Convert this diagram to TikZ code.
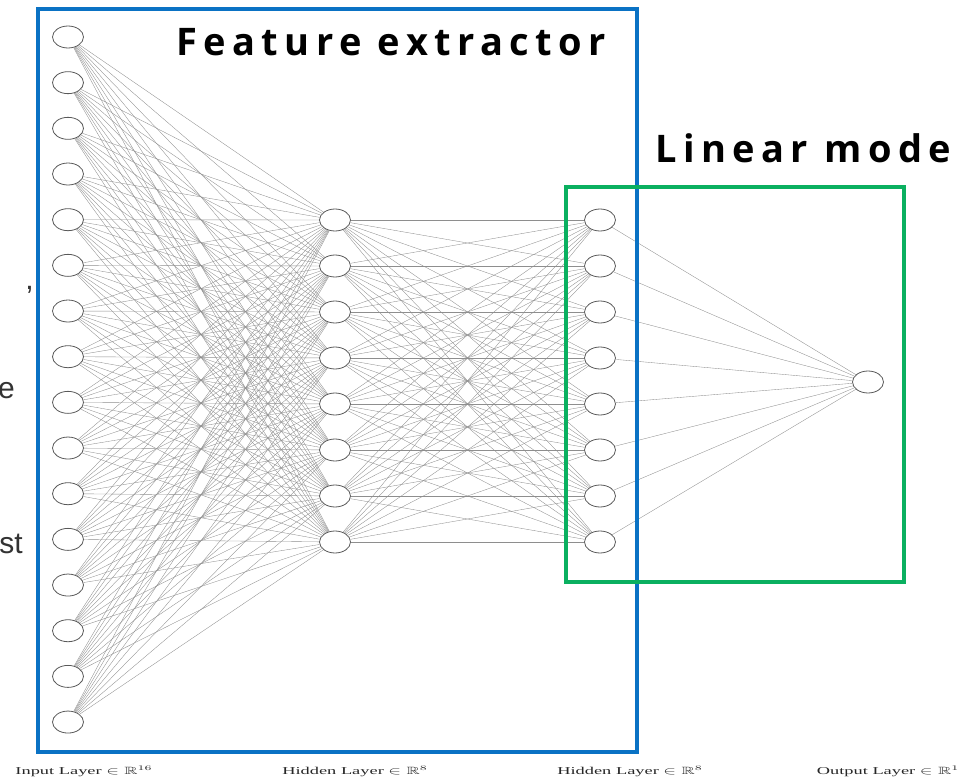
\documentclass[tikz,border=0pt]{standalone}
\usepackage{fontspec}
\usepackage{amssymb}
\usepackage{graphicx}
\usetikzlibrary{shapes.geometric}
\setmainfont{Liberation Serif}
\newfontfamily\titlefont[LetterSpace=17]{Open Sans}
\newfontfamily\sidefont{Liberation Sans}
\definecolor{boxblue}{HTML}{0A72C4}
\definecolor{boxgreen}{HTML}{0AB060}
\definecolor{edgegray}{HTML}{8E8E8E}
\tikzset{
  neuron/.style={ellipse, draw=black!65, line width=0.8pt, fill=white,
    minimum width=31pt, minimum height=22pt, inner sep=0pt},
  link/.style={draw=edgegray, line width=0.35pt},
  layerlabel/.style={inner sep=0pt, text=black!85, font=\fontsize{10.5}{12}\selectfont},
  titletext/.style={inner sep=0pt, anchor=base west,
    font=\titlefont\bfseries\fontsize{38}{42}\selectfont},
  sidetext/.style={inner sep=0pt, anchor=base east, text=black!80,
    font=\sidefont\fontsize{30}{34}\selectfont}
}
\begin{document}
\begin{tikzpicture}[x=1pt,y=-1pt]
\useasboundingbox (0,0) rectangle (961,778);
\clip (0,0) rectangle (961,778);

% neurons
\foreach \k in {1,...,16}
  \node[neuron] (i\k) at (68, {37+(\k-1)*45.67}) {};
\foreach \k in {1,...,8}{
  \node[neuron] (h\k) at (335, {220+(\k-1)*46}) {};
  \node[neuron] (g\k) at (600, {220+(\k-1)*46}) {};
}
\node[neuron] (o) at (868, 382) {};

% fully connected weights
\foreach \a in {1,...,16}
  \foreach \b in {1,...,8}
    \draw[link] (i\a) -- (h\b);
\foreach \a in {1,...,8}
  \foreach \b in {1,...,8}
    \draw[link] (h\a) -- (g\b);
\foreach \a in {1,...,8}
  \draw[link] (g\a) -- (o);

% grouping frames
\node[draw=boxblue, line width=4.5pt, inner sep=0pt, minimum width=599pt,
  minimum height=743pt] (fe) at (337.5, 380.5) {};
\node[draw=boxgreen, line width=4pt, inner sep=0pt, minimum width=338pt,
  minimum height=395pt] (lm) at (735, 384.5) {};

% titles
\node[titletext] (fet) at (176, 56) {Feature extractor};
\node[titletext] (lmt) at (655, 163) {Linear mode};

% layer captions
\node[layerlabel] (li) at (84, 771) {\scalebox{1.75}[1]{Input Layer $\in\mathbb{R}^{16}$}};
\node[layerlabel] (lh1) at (355, 771) {\scalebox{1.75}[1]{Hidden Layer $\in\mathbb{R}^{8}$}};
\node[layerlabel] (lh2) at (630, 771) {\scalebox{1.75}[1]{Hidden Layer $\in\mathbb{R}^{8}$}};
\node[layerlabel] (lo) at (888, 771) {\scalebox{1.75}[1]{Output Layer $\in\mathbb{R}^{1}$}};

% text running in from the left
\node[sidetext] (s1) at (34, 289) {,};
\node[sidetext] (s2) at (15, 398) {e};
\node[sidetext] (s3) at (23, 553) {st};
\end{tikzpicture}
\end{document}
